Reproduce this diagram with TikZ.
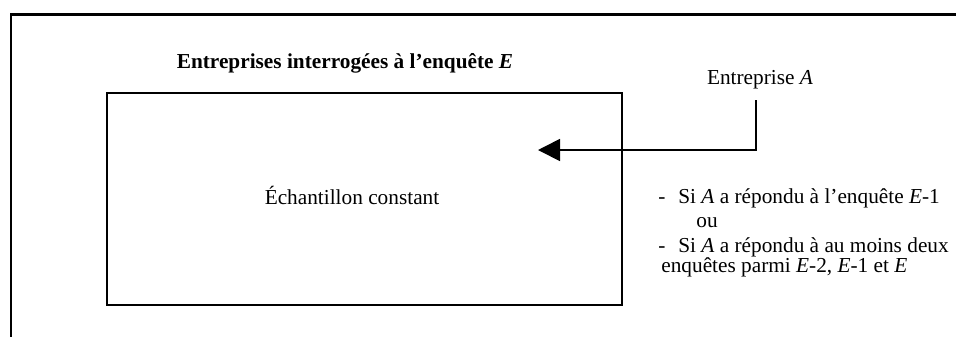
\documentclass[tikz,border=0pt]{standalone}
\usepackage{fontspec}
\setmainfont{Liberation Serif}
\usetikzlibrary{arrows.meta}
\begin{document}
\begin{tikzpicture}[x=0.5634pt,y=-0.5634pt,
  txt/.style={inner sep=0pt,font=\fontsize{12pt}{14pt}\selectfont},
  frameline/.style={line width=1.4pt,draw=black},
  boxline/.style={line width=1.3pt,draw=black},
  conn/.style={line width=0.95pt,-{Triangle[length=12.4pt,width=12.4pt]}}]
\useasboundingbox (0,0) rectangle (956,336);
\clip (0,0) rectangle (956,336);
% outer frame (cut off at right and bottom)
\draw[frameline] (11,345) -- (11,14.5) -- (970,14.5);
% title
\node[txt,anchor=base] (title) at (345,68) {\textbf{Entreprises interrogées à l’enquête \textit{E}}};
% main box
\node[boxline,rectangle,minimum width=515*0.5634pt,minimum height=212*0.5634pt,inner sep=0pt] (box) at (364.5,199) {};
\node[txt,anchor=base] (ech) at (352,204) {Échantillon constant};
% Entreprise A
\node[txt,anchor=base] (entA) at (760,84) {Entreprise \textit{A}};
\coordinate (start) at (756,100);
\coordinate (tip) at (538,150);
\draw[conn] (start) |- (tip);
% conditions
\node[txt,anchor=base west] (d1) at (658,203) {-};
\node[txt,anchor=base west] (c1) at (678,203) {Si \textit{A} a répondu à l’enquête \textit{E}-1};
\node[txt,anchor=base west] (ou) at (696,227) {ou};
\node[txt,anchor=base west] (d2) at (658,252) {-};
\node[txt,anchor=base west] (c2) at (678,252) {Si \textit{A} a répondu à au moins deux};
\node[txt,anchor=base west] (c3) at (661,272) {enquêtes parmi \textit{E}-2, \textit{E}-1 et \textit{E}};
\end{tikzpicture}
\end{document}
